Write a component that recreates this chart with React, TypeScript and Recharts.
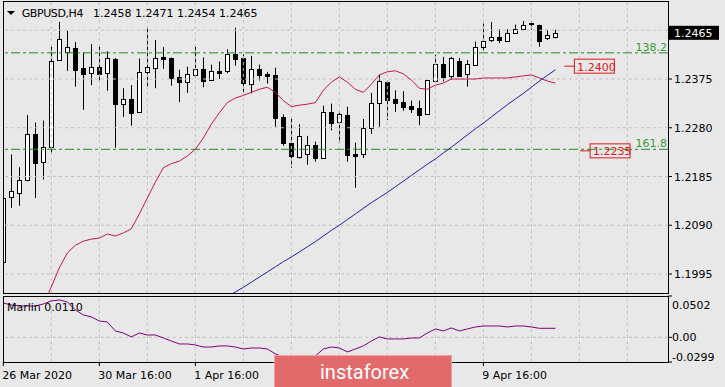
import React from "react";
import { ComposedChart, Bar, Line, XAxis, YAxis, ReferenceLine, ReferenceDot } from "recharts";

// GBPUSD H4, one entry per bar starting 26 Mar 2020 16:00
const opens = [
  1.2019, 1.2144, 1.2154, 1.2179, 1.2268, 1.2213, 1.2243, 1.2413, 1.2427, 1.2435,
  1.2396, 1.2388, 1.2398, 1.2385, 1.2414, 1.2326, 1.2336, 1.2311, 1.2388, 1.2396,
  1.2417, 1.2415, 1.2379, 1.237, 1.2382, 1.2394, 1.2373, 1.2391, 1.2389, 1.2423,
  1.2415, 1.2365, 1.2395, 1.2385, 1.2383, 1.2301, 1.2251, 1.2223, 1.2228, 1.2246,
  1.2221, 1.2311, 1.2291, 1.2305, 1.2228, 1.2228, 1.228, 1.2328, 1.237, 1.2337,
  1.233, 1.2323, 1.2318, 1.2306, 1.2371, 1.2405, 1.238, 1.241, 1.2384, 1.2403,
  1.2438, 1.245, 1.2456, 1.2449, 1.2464, 1.2473, 1.2485, 1.248, 1.2455, 1.2458,
];
const highs = [
  1.2182, 1.2228, 1.2203, 1.2305, 1.229, 1.2294, 1.2441, 1.2486, 1.2469, 1.2447,
  1.2427, 1.2443, 1.2441, 1.2429, 1.2416, 1.2357, 1.2363, 1.2415, 1.2475, 1.2451,
  1.2437, 1.2417, 1.2393, 1.2399, 1.2438, 1.2417, 1.2403, 1.2409, 1.2433, 1.2475,
  1.2423, 1.242, 1.2403, 1.2389, 1.2397, 1.2306, 1.23, 1.2287, 1.2264, 1.2253,
  1.2323, 1.2327, 1.2313, 1.2321, 1.2251, 1.2297, 1.2348, 1.2383, 1.2373, 1.2353,
  1.2351, 1.2333, 1.2333, 1.2373, 1.2422, 1.2418, 1.2418, 1.2416, 1.2412, 1.2448,
  1.2483, 1.2486, 1.2472, 1.2472, 1.2481, 1.2488, 1.2488, 1.2481, 1.2471, 1.2471,
];
const lows = [
  1.1973, 1.2124, 1.2128, 1.2176, 1.2143, 1.2179, 1.223, 1.241, 1.2391, 1.236,
  1.2315, 1.2363, 1.2371, 1.2352, 1.2241, 1.2301, 1.2284, 1.231, 1.236, 1.2357,
  1.2395, 1.2362, 1.233, 1.2348, 1.2378, 1.2359, 1.2371, 1.2375, 1.2386, 1.2401,
  1.235, 1.2347, 1.2372, 1.2366, 1.2282, 1.2245, 1.2202, 1.222, 1.2208, 1.2214,
  1.222, 1.2275, 1.225, 1.2214, 1.2163, 1.2221, 1.2268, 1.2282, 1.2295, 1.2311,
  1.2313, 1.2309, 1.2285, 1.2305, 1.2369, 1.237, 1.2373, 1.2379, 1.236, 1.2401,
  1.2431, 1.2447, 1.2445, 1.2447, 1.2463, 1.2471, 1.2471, 1.2438, 1.2451, 1.2454,
];
const closes = [
  1.2143, 1.2156, 1.2179, 1.2268, 1.2211, 1.2243, 1.2411, 1.2453, 1.2437, 1.2393,
  1.2385, 1.2399, 1.2385, 1.2415, 1.2326, 1.2336, 1.2309, 1.2389, 1.2398, 1.2415,
  1.2414, 1.2376, 1.237, 1.2385, 1.2394, 1.237, 1.2391, 1.2388, 1.2423, 1.2414,
  1.2366, 1.2395, 1.2383, 1.2382, 1.2299, 1.225, 1.2225, 1.2264, 1.2246, 1.2221,
  1.231, 1.229, 1.2307, 1.2228, 1.2225, 1.2279, 1.2328, 1.2371, 1.2334, 1.233,
  1.2321, 1.2318, 1.2305, 1.2373, 1.2405, 1.238, 1.2415, 1.2381, 1.2404, 1.2438,
  1.2449, 1.2456, 1.2451, 1.2464, 1.2472, 1.2481, 1.2483, 1.2448, 1.2461, 1.2465,
];
const redMa = [
  null, null, null, null, null, 1.1935, 1.197, 1.2007, 1.2036, 1.2051,
  1.2059, 1.2063, 1.2065, 1.2073, 1.2069, 1.2075, 1.2083, 1.2112, 1.2143, 1.2174,
  1.2202, 1.221, 1.2215, 1.2225, 1.2238, 1.226, 1.2287, 1.2309, 1.2329, 1.2338,
  1.2343, 1.2349, 1.2355, 1.2359, 1.2349, 1.2333, 1.2321, 1.2324, 1.2326, 1.2329,
  1.2353, 1.2369, 1.2379, 1.2369, 1.2355, 1.2349, 1.2365, 1.2383, 1.2389, 1.2391,
  1.2385, 1.2373, 1.2357, 1.2355, 1.2363, 1.2367, 1.2375, 1.2375, 1.2375, 1.2375,
  1.2377, 1.2377, 1.2377, 1.2377, 1.2379, 1.2381, 1.2383, 1.2377, 1.2371, 1.2367,
];
const blueMa = [
  null, null, null, null, null, null, null, null, null, null,
  null, null, null, null, null, null, null, null, null, null,
  null, null, null, null, null, null, null, null, 1.195, 1.196,
  1.1969, 1.1979, 1.1989, 1.1999, 1.2009, 1.2019, 1.2028, 1.2038, 1.2048, 1.2058,
  1.2069, 1.208, 1.209, 1.2101, 1.2112, 1.2123, 1.2134, 1.2144, 1.2154, 1.2165,
  1.2176, 1.2187, 1.2198, 1.2209, 1.2219, 1.2231, 1.2242, 1.2254, 1.2266, 1.2278,
  1.2289, 1.2301, 1.2313, 1.2325, 1.2336, 1.2347, 1.2359, 1.2371, 1.2382, 1.2393,
];
const marlin = [
  0.0417, 0.0393, 0.0381, 0.0381, 0.0381, 0.0405, 0.0442, 0.0454, 0.043, 0.0333,
  0.0272, 0.0248, 0.0199, 0.0187, 0.0078, 0.0053, 0.0005, 0.0053, 0.0029, 0.0029,
  -0.0007, -0.0044, -0.008, -0.008, -0.0092, -0.0117, -0.0117, -0.0104, -0.0104, -0.0117,
  -0.0141, -0.0129, -0.0129, -0.0141, -0.0201, -0.0238, -0.0262, -0.0274, -0.025, -0.0226,
  -0.0141, -0.0117, -0.0129, -0.0177, -0.0141, -0.0104, -0.0044, 0.0005, -0.0019, -0.0019,
  -0.0019, -0.0007, -0.0007, 0.0053, 0.0102, 0.0078, 0.0114, 0.0078, 0.0102, 0.0126,
  0.0138, 0.0138, 0.0138, 0.0126, 0.0138, 0.0138, 0.0126, 0.011, 0.011, 0.011,
];

const priceTicks = [1.247, 1.2375, 1.228, 1.2185, 1.209, 1.1995];
const lastPrice = 1.2465;
const titleValues = ["1.2458", "1.2471", "1.2454", "1.2465"];
// the 3 Apr and 7 Apr labels sit under the broker logo, so only these show
const timeTicks = [0, 12, 24, 60];
const timeLabels = ["26 Mar 2020", "30 Mar 16:00", "1 Apr 16:00", "9 Apr 16:00"];
const gridBars = [6, 12, 18, 24, 30, 36, 42, 48, 54, 60, 66, 72, 78];
const fibPrices = [1.2426, 1.2238];
const fibLabels = ["138.2", "161.8"];
const markPrices = [1.24, 1.2235];
const marlinTicks = [0.0502, 0, -0.0299];
const marlinTickLabels = ["0.0502", "0.00", "-0.0299"];

const rows = opens.map((open, k) => ({
  k,
  open,
  high: highs[k],
  low: lows[k],
  close: closes[k],
  range: [lows[k], highs[k]],
  red: redMa[k],
  blue: blueMa[k],
  marlin: marlin[k],
}));

const FONT = "DejaVu Sans";
const BG = "#e8e8e8";
const GRID = "#c2c2c2";
const X_DOMAIN: [number, number] = [-0.04, 83.08];
const MARK_BARS = [71.375, 73.34];

function Candle(props: any) {
  const { x, y, width, height, payload } = props;
  const top = Math.min(y, y + height);
  const bottom = Math.max(y, y + height);
  const span = payload.high - payload.low;
  const toY = (p: number) => (span === 0 ? top : bottom - ((p - payload.low) / span) * (bottom - top));
  const cx = Math.floor(x + width / 2) + 0.5;
  const oY = toY(payload.open);
  const cY = toY(payload.close);
  const bodyTop = Math.round(Math.min(oY, cY)) + 0.5;
  const bodyH = Math.max(Math.round(Math.abs(oY - cY)), 1);
  const up = payload.close >= payload.open;
  return (
    <g>
      <line x1={cx} x2={cx} y1={top} y2={bottom} stroke="#000" />
      <rect x={cx - 2} y={bodyTop} width={4} height={bodyH} fill={up ? "#fff" : "#000"} stroke="#000" />
    </g>
  );
}

function PriceTick({ x, y, payload }: any) {
  const v = payload.value;
  if (v === lastPrice) {
    return (
      <g>
        <rect x={x + 1} y={y - 7} width={50} height={14} fill="#000" />
        <text x={x + 6} y={y + 4} fill="#fff" fontSize={11} fontFamily={FONT}>{v.toFixed(4)}</text>
      </g>
    );
  }
  const hidden = Math.abs(v - lastPrice) < 0.001;
  return (
    <g>
      <line x1={x} x2={x + 4} y1={y} y2={y} stroke="#000" />
      {!hidden && (
        <text x={x + 6} y={y + 4} fill="#000" fontSize={11} fontFamily={FONT}>{v.toFixed(4)}</text>
      )}
    </g>
  );
}

function MarlinTick({ x, y, payload, index }: any) {
  const shift = index === 0 ? 9 : index === marlinTicks.length - 1 ? -5 : 0;
  return (
    <g>
      <line x1={x} x2={x + 4} y1={y} y2={y} stroke="#000" />
      <text x={x + 4} y={y + shift + 4} fill="#000" fontSize={11} fontFamily={FONT}>
        {marlinTickLabels[marlinTicks.indexOf(payload.value)]}
      </text>
    </g>
  );
}

function TimeTick({ x, y, payload }: any) {
  return (
    <text x={x - 1} y={y + 12.5} fill="#000" fontSize={11} fontFamily={FONT}>
      {timeLabels[timeTicks.indexOf(payload.value)]}
    </text>
  );
}

function FibLabel({ viewBox, text }: any) {
  return (
    <text x={viewBox.x + viewBox.width - 1} y={viewBox.y - 2} textAnchor="end" fill="#3a9a3a" fontSize={11} fontFamily={FONT}>
      {text}
    </text>
  );
}

function PriceMark({ cx, cy, text }: any) {
  return (
    <g>
      <line x1={cx - 10} x2={cx} y1={cy} y2={cy} stroke="#e01818" />
      <rect x={cx} y={cy - 7} width={40} height={14} fill="none" stroke="#e01818" />
      <text x={cx + 3} y={cy + 4.5} fill="#e01818" fontSize={11} fontFamily={FONT}>{text}</text>
    </g>
  );
}

export default function App() {
  return (
    <div style={{ position: "absolute", left: 0, top: 0, width: 725, height: 387, background: BG, overflow: "hidden" }}>
      <div style={{ position: "absolute", left: 0, top: 0 }}>
        <ComposedChart width={725} height={294} data={rows} margin={{ top: 1, right: 0, bottom: 1, left: 3 }}>
          <XAxis dataKey="k" type="number" domain={X_DOMAIN} allowDataOverflow hide />
          <YAxis
            orientation="right"
            width={57}
            domain={[1.1958, 1.2527]}
            allowDataOverflow
            ticks={[...priceTicks, lastPrice]}
            interval={0}
            tickSize={0}
            tickMargin={0}
            axisLine={false}
            tick={<PriceTick />}
          />
          {gridBars.map((b) => (
            <ReferenceLine key={`v${b}`} x={b} stroke={GRID} strokeDasharray="3 3" />
          ))}
          {priceTicks.map((p) => (
            <ReferenceLine key={`h${p}`} y={p} stroke={GRID} strokeDasharray="3 3" />
          ))}
          {fibPrices.map((p, i) => (
            <ReferenceLine
              key={`f${p}`}
              y={p}
              stroke="#2a872a"
              strokeDasharray="9 3 3 3"
              label={<FibLabel text={fibLabels[i]} />}
            />
          ))}
          <Bar dataKey="range" barSize={5} shape={Candle} isAnimationActive={false} />
          <Line dataKey="red" type="linear" stroke="#c8174a" strokeWidth={1} dot={false} isAnimationActive={false} />
          <Line dataKey="blue" type="linear" stroke="#2020a8" strokeWidth={1} dot={false} isAnimationActive={false} />
          {markPrices.map((p, i) => (
            <ReferenceDot
              key={`m${p}`}
              x={MARK_BARS[i]}
              y={p}
              r={0}
              shape={(s: any) => <PriceMark cx={s.cx} cy={s.cy} text={p.toFixed(4)} />}
            />
          ))}
        </ComposedChart>
      </div>

      <div style={{ position: "absolute", left: 0, top: 0 }}>
        <ComposedChart width={725} height={387} data={rows} margin={{ top: 296, right: 0, bottom: 0, left: 3 }}>
          <XAxis
            dataKey="k"
            type="number"
            domain={X_DOMAIN}
            allowDataOverflow
            ticks={timeTicks}
            interval={0}
            height={25}
            tickSize={4}
            tickMargin={0}
            axisLine={false}
            tickLine={{ stroke: "#000" }}
            tick={<TimeTick />}
          />
          <YAxis
            orientation="right"
            width={57}
            domain={[-0.0299, 0.0502]}
            allowDataOverflow
            ticks={marlinTicks}
            interval={0}
            tickSize={0}
            tickMargin={0}
            axisLine={false}
            tick={<MarlinTick />}
          />
          {gridBars.map((b) => (
            <ReferenceLine key={`mv${b}`} x={b} stroke={GRID} strokeDasharray="3 3" />
          ))}
          <ReferenceLine y={0} stroke={GRID} strokeDasharray="3 3" />
          <Line dataKey="marlin" type="linear" stroke="#800080" strokeWidth={1} dot={false} isAnimationActive={false} />
        </ComposedChart>
      </div>

      <div style={{ position: "absolute", left: 3, top: 1, width: 666, height: 293, border: "1px solid #000", boxSizing: "border-box" }} />
      <div style={{ position: "absolute", left: 3, top: 296, width: 666, height: 67, border: "1px solid #000", boxSizing: "border-box" }} />

      <svg width={725} height={387} style={{ position: "absolute", left: 0, top: 0 }}>
        <polygon points="7,11 15,11 11,15" fill="#000" />
        <text x={21.7} y={17.3} fontSize={11} fontFamily={FONT} letterSpacing={-0.4} fill="#000">GBPUSD,H4</text>
        {titleValues.map((t, i) => (
          <text key={t + i} x={93 + i * 42} y={17.3} fontSize={11} fontFamily={FONT} fill="#000">{t}</text>
        ))}
        <text x={7} y={310.7} fontSize={11} fontFamily={FONT} fill="#000">Marlin 0.0110</text>
        <rect x={274.5} y={355.5} width={177} height={32} fill="#e26a6a" stroke="#eda0a0" />
        <text x={320} y={379} fontSize={20} fontFamily="Roboto" fill="#fff">instaforex</text>
      </svg>
    </div>
  );
}
